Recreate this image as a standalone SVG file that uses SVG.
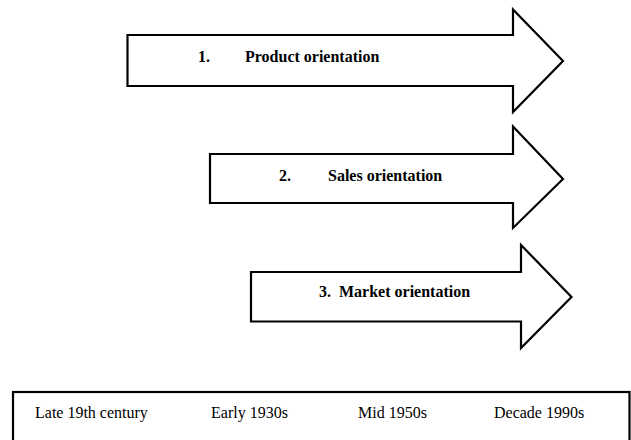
<svg xmlns="http://www.w3.org/2000/svg" width="631" height="440" viewBox="0 0 631 440">
<style>
.arrow{fill:#fff;stroke:#000;stroke-width:2.2;stroke-linejoin:miter}
.lbl{font-family:"Liberation Serif","Times New Roman",serif;font-size:16px;font-weight:bold;fill:#000}
.era{font-family:"Liberation Serif","Times New Roman",serif;font-size:16px;fill:#000}
.box{fill:#fff;stroke:#000;stroke-width:2.2}
</style>
<rect width="631" height="440" fill="#fff"/>
<g id="node-product">
<polygon class="arrow" points="127.5,35 513,35 513,9.5 563,61 513,112 513,86 127.5,86"/>
<text class="lbl" x="198" y="62">1.</text>
<text class="lbl" x="245" y="62">Product orientation</text>
</g>
<g id="node-sales">
<polygon class="arrow" points="210,154 513,154 513,126.5 563,179 513,228 513,203 210,203"/>
<text class="lbl" x="279" y="181">2.</text>
<text class="lbl" x="328" y="181">Sales orientation</text>
</g>
<g id="node-market">
<polygon class="arrow" points="251,272 521,272 521,245 571.5,297 521,348 521,321.5 251,321.5"/>
<text class="lbl" x="319" y="297" xml:space="preserve">3.  Market orientation</text>
</g>
<g id="node-timeline">
<rect class="box" x="13" y="392" width="616.5" height="60"/>
<text class="era" x="35" y="418">Late 19th century</text>
<text class="era" x="211" y="418">Early 1930s</text>
<text class="era" x="358" y="418">Mid 1950s</text>
<text class="era" x="494" y="418">Decade 1990s</text>
</g>
<g id="connectors"></g>
</svg>
